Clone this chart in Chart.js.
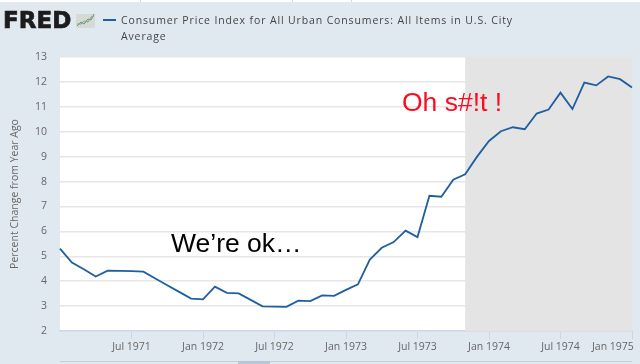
<!DOCTYPE html>
<html>
<head>
<meta charset="utf-8">
<title>Consumer Price Index</title>
<script src="https://cdn.jsdelivr.net/npm/chart.js@4"></script>
<style>
  html, body { margin: 0; padding: 0; background: #e1e9f0; }
  #page { position: relative; width: 640px; height: 364px; overflow: hidden; }
  #page canvas { position: absolute; left: 0; top: 0; }
  .top-strip { position: absolute; left: 0; top: 0; width: 640px; height: 2px; background: #fff; }
  .top-tick { position: absolute; top: 0; width: 1px; height: 2px; background: #d8d8d8; }
  .logo { position: absolute; left: 3px; top: 7px; font: bold 23px/26px "DejaVu Sans"; color: #1c1c1c; letter-spacing: 0; -webkit-text-stroke: 0.7px #1c1c1c; }
  .logo-icon { position: absolute; left: 76px; top: 11px; }
  .swatch { position: absolute; left: 103px; top: 19px; width: 13px; height: 2px; background: #1f5f9f; }
  .series-title { position: absolute; left: 121px; top: 12px; width: 410px; font: 10.5px/16px "Open Sans"; letter-spacing: 0.87px; color: #444; }
  .nav-line { position: absolute; left: 60px; top: 361px; width: 572px; height: 1px; background: #c5ced8; }
  .nav-thumb { position: absolute; left: 238px; top: 361px; width: 32px; height: 3px; background: #b9c4d6; }
</style>
</head>
<body>
<div id="page">
  <canvas id="cpiChart" width="640" height="364"></canvas>
  <div class="top-strip"></div>
  <div class="top-tick" style="left:140px"></div>
  <div class="top-tick" style="left:292px"></div>
  <div class="top-tick" style="left:351px"></div>
  <div class="logo">FRED</div>
  <svg class="logo-icon" width="19" height="18" viewBox="0 0 19 18">
    <rect x="0" y="3" width="19" height="14" fill="#d5dad5"/>
    <polyline points="1,15 5,11 8,13 12,8 15,9 18,3" fill="none" stroke="#5b8fb5" stroke-width="1"/>
    <polyline points="1,13 5,13 8,10 12,11 15,6 18,5" fill="none" stroke="#8aa860" stroke-width="1"/>
  </svg>
  <div class="swatch"></div>
  <div class="series-title">Consumer Price Index for All Urban Consumers: All Items in U.S. City Average</div>
  <div class="nav-line"></div>
  <div class="nav-thumb"></div>
</div>

<script>
// ============================================================
// DATA
// ============================================================

const months = [
  "Jan 1971", "Feb 1971", "Mar 1971", "Apr 1971", "May 1971", "Jun 1971", "Jul 1971", "Aug 1971", "Sep 1971", "Oct 1971", "Nov 1971", "Dec 1971",
  "Jan 1972", "Feb 1972", "Mar 1972", "Apr 1972", "May 1972", "Jun 1972", "Jul 1972", "Aug 1972", "Sep 1972", "Oct 1972", "Nov 1972", "Dec 1972",
  "Jan 1973", "Feb 1973", "Mar 1973", "Apr 1973", "May 1973", "Jun 1973", "Jul 1973", "Aug 1973", "Sep 1973", "Oct 1973", "Nov 1973", "Dec 1973",
  "Jan 1974", "Feb 1974", "Mar 1974", "Apr 1974", "May 1974", "Jun 1974", "Jul 1974", "Aug 1974", "Sep 1974", "Oct 1974", "Nov 1974", "Dec 1974",
  "Jan 1975"
];

const cpiChange = [
  5.31, 4.75, 4.48, 4.19, 4.42, 4.41, 4.40, 4.38, 4.11, 3.84, 3.57, 3.30,
  3.27, 3.78, 3.53, 3.51, 3.25, 2.99, 2.98, 2.97, 3.22, 3.20, 3.43, 3.41,
  3.65, 3.87, 4.87, 5.34, 5.57, 6.03, 5.77, 7.43, 7.39, 8.07, 8.29, 9.00,
  9.63, 10.02, 10.18, 10.10, 10.73, 10.89, 11.57, 10.91, 11.97, 11.86, 12.22, 12.11,
  11.78
];

const xTickLabels = ["Jul 1971", "Jan 1972", "Jul 1972", "Jan 1973", "Jul 1973", "Jan 1974", "Jul 1974", "Jan 1975"];

const recessionStart = "Nov 1973";
const recessionEnd = "Jan 1975";

const seriesName = "Consumer Price Index for All Urban Consumers: All Items in U.S. City Average";
const yAxisTitle = "Percent Change from Year Ago";

// ============================================================
// PLUGINS
// ============================================================

// white plot area and the grey recession band behind the line
const plotBackground = {
  id: "plotBackground",
  beforeDraw(chart) {
    const { ctx, chartArea } = chart;
    ctx.save();
    ctx.fillStyle = "#ffffff";
    ctx.fillRect(chartArea.left, chartArea.top, chartArea.width, chartArea.height);
    ctx.restore();
  },
  beforeDatasetsDraw(chart) {
    const { ctx, chartArea, scales } = chart;
    const x0 = scales.x.getPixelForValue(months.indexOf(recessionStart));
    const x1 = scales.x.getPixelForValue(months.indexOf(recessionEnd));
    ctx.save();
    ctx.fillStyle = "#e4e4e4";
    ctx.fillRect(x0, chartArea.top, x1 - x0, chartArea.height);
    ctx.restore();
  }
};

// the two hand written notes on top of the chart
const notes = {
  id: "notes",
  afterDraw(chart) {
    const { ctx } = chart;
    ctx.save();
    ctx.textBaseline = "alphabetic";
    ctx.fillStyle = "#000000";
    ctx.font = '26.5px "Liberation Sans"';
    ctx.fillText("We\u2019re ok\u2026", 171, 252);
    ctx.fillStyle = "#ff0a1e";
    ctx.font = '26.5px "Liberation Sans"';
    ctx.fillText("Oh s#!t !", 402, 111);
    ctx.restore();
  }
};

// ============================================================
// CHART.JS
// ============================================================

const tickFont = { family: "Open Sans", size: 10.5 };
const tickColor = "#666666";

new Chart(document.getElementById("cpiChart").getContext("2d"), {
  type: "line",
  data: {
    labels: months,
    datasets: [
      {
        label: seriesName,
        data: cpiChange,
        borderColor: "#1f5f9f",
        borderWidth: 1.8,
        pointRadius: 0,
        tension: 0
      }
    ]
  },
  options: {
    responsive: false,
    animation: false,
    layout: { padding: { top: 57, right: 8, left: 0, bottom: 0 } },
    plugins: {
      legend: { display: false },
      tooltip: { enabled: false }
    },
    scales: {
      x: {
        type: "category",
        offset: false,
        grid: { drawOnChartArea: false, tickLength: 8, tickColor: "#ccd6eb", tickWidth: 1 },
        border: { color: "#ccd6eb", width: 1.5 },
        ticks: {
          autoSkip: false,
          maxRotation: 0,
          padding: 2,
          font: tickFont,
          color: tickColor,
          callback(value) {
            const label = this.getLabelForValue(value);
            // last label sits left of its tick so it stays on the page
            return label === "Jan 1975" ? label + "\u00a0".repeat(14) : label;
          }
        },
        afterBuildTicks(scale) {
          scale.ticks = scale.ticks.filter((t) => xTickLabels.includes(months[t.value]));
        },
        afterFit(scale) {
          scale.height = 33;
          scale.paddingLeft = 0;
          scale.paddingRight = 0;
        }
      },
      y: {
        min: 2,
        max: 13,
        title: {
          display: true,
          text: yAxisTitle,
          font: { family: "Open Sans", size: 10.5 },
          color: tickColor,
          padding: { top: 9, bottom: 0 }
        },
        grid: { color: "#e6e6e6", lineWidth: 1.5, drawTicks: false },
        border: { display: false },
        ticks: {
          stepSize: 1,
          padding: 13,
          font: tickFont,
          color: tickColor
        },
        afterFit(scale) {
          scale.width = 60;
          scale.paddingTop = 0;
          scale.paddingBottom = 0;
        }
      }
    }
  },
  plugins: [plotBackground, notes]
});
</script>
</body>
</html>
